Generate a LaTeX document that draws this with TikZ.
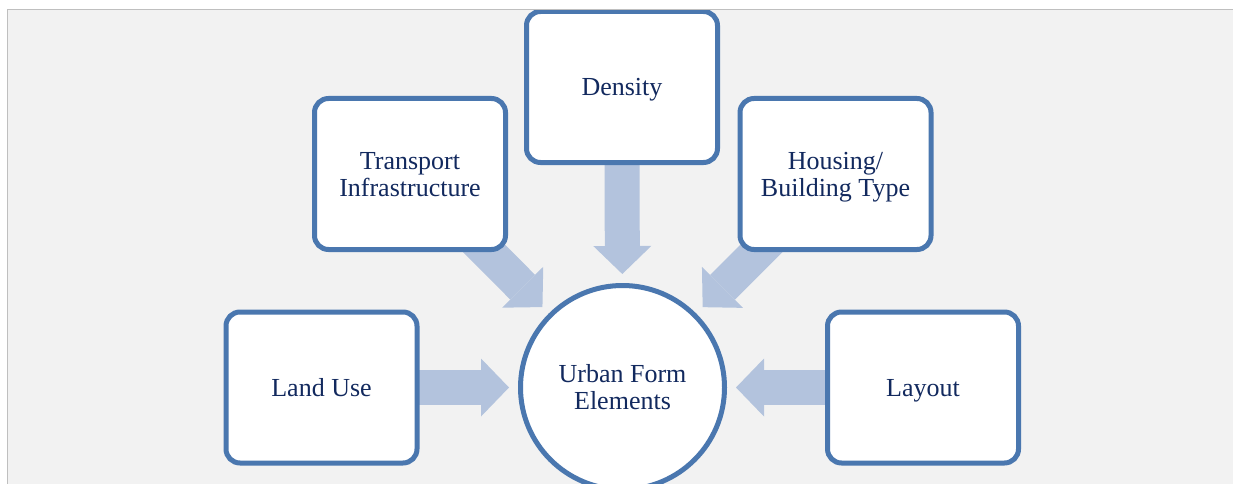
\documentclass[tikz,border=0pt]{standalone}
\usepackage{fontspec}
\setmainfont{Liberation Serif}
\usetikzlibrary{arrows.meta,backgrounds}

\definecolor{panelgray}{HTML}{F2F2F2}
\definecolor{framegray}{HTML}{BFBFBF}
\definecolor{boxline}{HTML}{4A77AF}
\definecolor{flowfill}{HTML}{B3C3DD}
\definecolor{labelnavy}{HTML}{12295E}

% struts that centre a one-line label on its capital letters
\newcommand\topstrut{\rule{0pt}{23.2pt}}
\newcommand\botstrut{\rule[-6pt]{0pt}{6pt}}
% a two-line label, set a little lower than its box centre
\newcommand\pairlabel[2]{\raisebox{-3.4pt}[\height][\depth]{%
  \begin{tabular}{@{}c@{}}#1\\#2\end{tabular}}}

\begin{document}
\begin{tikzpicture}[x=1pt,y=-1pt,
  labeltext/.style={align=center, text=labelnavy,
    font=\fontsize{26}{27}\selectfont},
  oneline/.style={execute at begin node=\topstrut,
    execute at end node=\botstrut},
  element/.style={labeltext, draw=boxline, line width=5pt, fill=white,
    rounded corners=14pt, minimum width=191pt, minimum height=151pt,
    inner sep=0pt},
  hub/.style={labeltext, circle, draw=boxline, line width=5pt, fill=white,
    minimum size=204pt, inner sep=0pt},
  flow/.style={draw=flowfill, line width=35pt,
    -{Triangle[length=28pt, width=58pt, line width=0pt]},
    shorten <=-30pt, shorten >=9pt}]

\useasboundingbox (0,0) rectangle (1233,484);

% central element and the five contributing elements, kept inside the panel
\begin{scope}
  \clip (7.5,9.5) rectangle (1233,484);
  \node[hub] (hub) at (622.5,387.5) {\pairlabel{Urban Form}{Elements}};
  \node[element, oneline] (density) at (622,87) {Density};
  \node[element] (trans) at (410,174) {\pairlabel{Transport}{Infrastructure}};
  \node[element] (house) at (835.5,174) {\pairlabel{Housing/}{Building Type}};
  \node[element, oneline] (land) at (321.5,387.5) {Land Use};
  \node[element, oneline] (layout) at (923,387.5) {Layout};
\end{scope}

\begin{pgfonlayer}{background}
  % page panel
  \fill[white] (0,0) rectangle (1233,484);
  \fill[panelgray] (7.5,9.5) rectangle (1233,484);
  % block arrows pointing to the centre
  \draw[flow] (density) -- (hub);
  \draw[flow] (trans) -- (hub);
  \draw[flow] (house) -- (hub);
  \draw[flow] (land) -- (hub);
  \draw[flow] (layout) -- (hub);
\end{pgfonlayer}

% panel frame on the left and top
\draw[framegray, line width=1.3pt] (7.5,484) -- (7.5,9.5) -- (1233,9.5);
\end{tikzpicture}
\end{document}
